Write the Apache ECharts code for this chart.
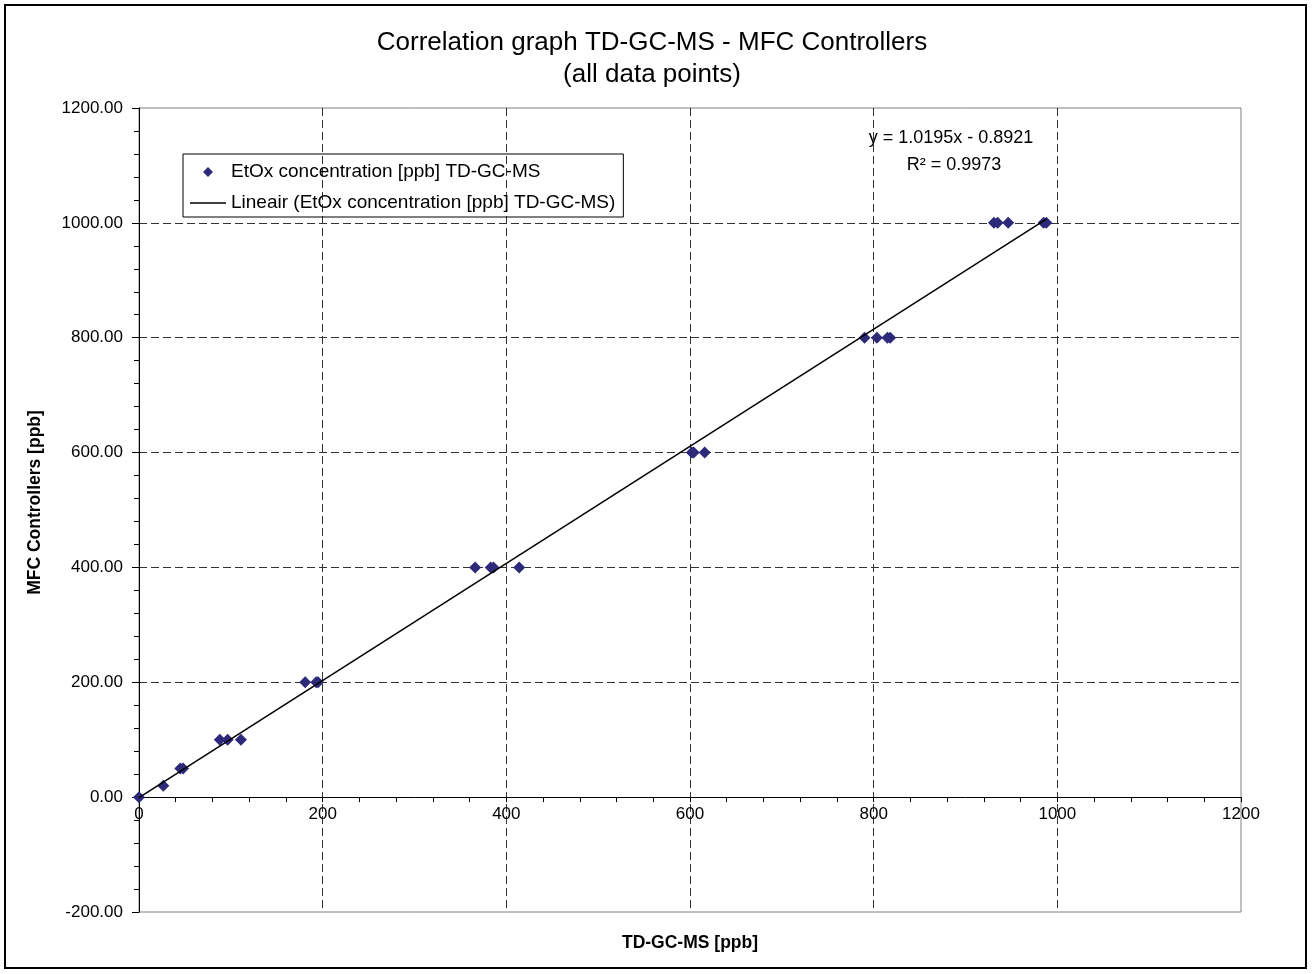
<!DOCTYPE html>
<html>
<head>
<meta charset="utf-8">
<script src="https://cdn.jsdelivr.net/npm/echarts@6/dist/echarts.min.js"></script>
<style>
html,body{margin:0;padding:0;background:#fff;}
#chart{width:1312px;height:974px;}
</style>
</head>
<body>
<div id="chart"></div>
<script>
// ---- data ----
const tdgcms = [0, 26.5, 45, 48, 88, 96.5, 111, 181, 193, 195, 366, 383, 386, 414, 602, 604, 616, 790, 803.5, 815, 818, 931, 935, 946.5, 985, 988];
const mfc    = [0, 20, 50, 50, 100, 100, 100, 200, 200, 200, 400, 400, 400, 400, 600, 600, 600, 800, 800, 800, 800, 1000, 1000, 1000, 1000, 1000];
const trendSlope = 1.0195;
const trendIntercept = -0.8921;
const trendRange = [0, 988];
const seriesName = 'EtOx concentration [ppb] TD-GC-MS';
const trendName = 'Lineair (EtOx concentration [ppb] TD-GC-MS)';
const titleText = 'Correlation graph TD-GC-MS - MFC Controllers\n(all data points)';
const eqText = 'y = 1.0195x - 0.8921';
const r2Text = 'R² = 0.9973';
const xTitle = 'TD-GC-MS [ppb]';
const yTitle = 'MFC Controllers [ppb]';

const FONT = "'Liberation Sans', Arial, sans-serif";
const MARKER = '#2D2A7A';
const points = tdgcms.map((x, i) => [x, mfc[i]]);
const trend = trendRange.map(x => [x, trendSlope * x + trendIntercept]);

const chart = echarts.init(document.getElementById('chart'), null, {renderer: 'canvas'});
chart.setOption({
  animation: false,
  backgroundColor: '#fff',
  title: {
    text: titleText,
    left: 652,
    top: 27,
    textAlign: 'center',
    padding: 0,
    textStyle: {fontFamily: FONT, fontSize: 26, fontWeight: 'normal', color: '#000', lineHeight: 32}
  },
  legend: {
    orient: 'vertical',
    left: 183,
    top: 154,
    padding: [8, 8, 4, 7],
    borderColor: '#000',
    borderWidth: 1,
    itemWidth: 36,
    itemHeight: 10,
    itemGap: 11,
    symbolKeepAspect: true,
    textStyle: {fontFamily: FONT, fontSize: 19, color: '#000', lineHeight: 20},
    data: [
      {name: seriesName, icon: 'path://M5,0L10,5L5,10L0,5Z', itemStyle: {color: MARKER}},
      {name: trendName, icon: 'path://M0,0L72,0L72,3L0,3Z', itemStyle: {color: '#000'}}
    ]
  },
  grid: {
    left: 139, right: 71, top: 108, bottom: 62,
    show: true, borderColor: '#808080', borderWidth: 1, backgroundColor: 'transparent'
  },
  xAxis: {
    type: 'value',
    min: 0, max: 1200, interval: 200,
    axisLine: {show: true, onZero: true, lineStyle: {color: '#000', width: 1}},
    axisTick: {show: true, length: 5, lineStyle: {color: '#000'}},
    minorTick: {show: true, splitNumber: 5, length: 5, lineStyle: {color: '#000'}},
    axisLabel: {fontFamily: FONT, fontSize: 17, color: '#000', margin: -106, formatter: v => String(v)},
    splitLine: {show: true, showMinLine: false, showMaxLine: false, lineStyle: {color: '#333', width: 1, type: [8, 4]}}
  },
  yAxis: {
    type: 'value',
    min: -200, max: 1200, interval: 200,
    axisLine: {show: true, onZero: false, lineStyle: {color: '#000', width: 1}},
    axisTick: {show: true, length: 7, lineStyle: {color: '#000'}},
    minorTick: {show: true, splitNumber: 5, length: 5, lineStyle: {color: '#000'}},
    axisLabel: {fontFamily: FONT, fontSize: 17, color: '#000', margin: 16, formatter: v => v.toFixed(2)},
    splitLine: {show: true, showMinLine: false, showMaxLine: false, lineStyle: {color: '#333', width: 1, type: [8, 4]}}
  },
  series: [
    {
      name: seriesName,
      type: 'scatter',
      symbol: 'diamond',
      symbolSize: 12,
      itemStyle: {color: MARKER, opacity: 1},
      data: points,
      z: 3
    },
    {
      name: trendName,
      type: 'line',
      symbol: 'none',
      itemStyle: {color: '#000'},
      lineStyle: {color: '#000', width: 1.5},
      data: trend,
      z: 4
    }
  ],
  graphic: [
    {type: 'rect', shape: {x: 5, y: 5, width: 1301, height: 963}, style: {fill: 'none', stroke: '#000', lineWidth: 2}, silent: true},
    {type: 'text', x: 951, y: 138, style: {text: eqText, font: '18px ' + FONT, fill: '#000', textAlign: 'center', textVerticalAlign: 'middle'}},
    {type: 'text', x: 954, y: 165, style: {text: r2Text, font: '18px ' + FONT, fill: '#000', textAlign: 'center', textVerticalAlign: 'middle'}},
    {type: 'text', x: 690, y: 943, style: {text: xTitle, font: 'bold 17.5px ' + FONT, fill: '#000', textAlign: 'center', textVerticalAlign: 'middle'}},
    {type: 'text', x: 35.5, y: 502.5, rotation: Math.PI / 2, style: {text: yTitle, font: 'bold 17.5px ' + FONT, fill: '#000', textAlign: 'center', textVerticalAlign: 'middle'}}
  ]
});
</script>
</body>
</html>
